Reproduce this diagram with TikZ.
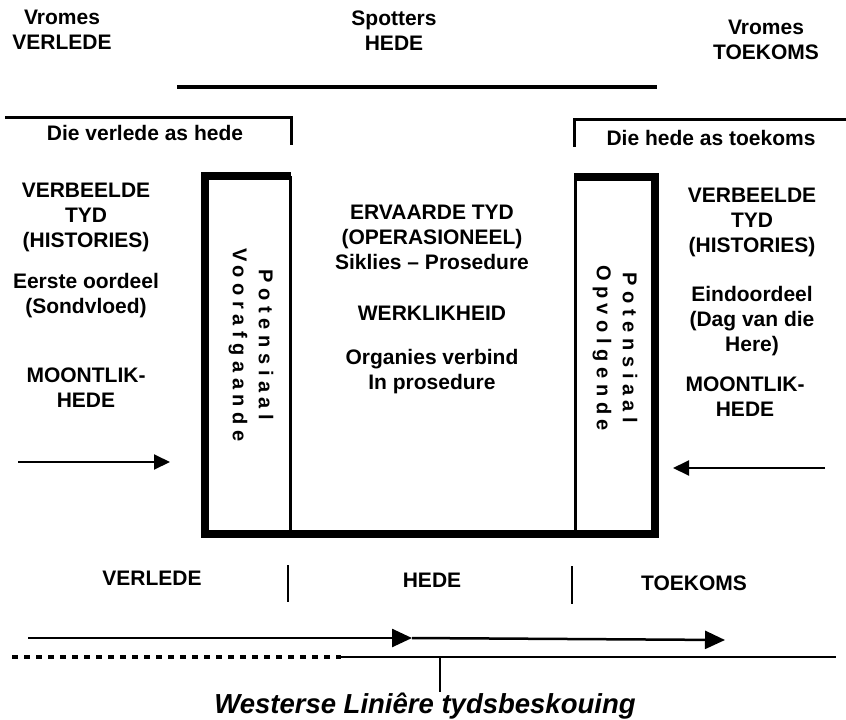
\documentclass[tikz,border=0pt]{standalone}
\usepackage{fontspec}
\setmainfont{Liberation Sans}
\newfontfamily\spacedfont[LetterSpace=28]{Liberation Sans}
\usetikzlibrary{arrows.meta}

\begin{document}
\begin{tikzpicture}[x=1pt,y=-1pt,
    txt/.style={align=center,inner sep=0pt,font=\bfseries\fontsize{21}{25}\selectfont},
    vtxt/.style={align=center,inner sep=0pt,rotate=-90,font=\spacedfont\bfseries\fontsize{20}{26}\selectfont},
    thinline/.style={line width=3pt},
    boxline/.style={line width=7.5pt,line join=miter},
    timearrow/.style={line width=2.5pt,-{Triangle[length=20pt,width=18pt]}}]
  \useasboundingbox (0,0) rectangle (846,720);
  % koppe
  \node[txt] (vromesv) at (62,30) {Vromes\\VERLEDE};
  \node[txt] (spotters) at (394,31) {Spotters\\HEDE};
  \node[txt] (vromest) at (766,40) {Vromes\\TOEKOMS};
  \draw[line width=4pt] (177,87) -- (657,87);
  % hakies
  \draw[thinline] (5,117) -- (291,117) -- (291,145);
  \draw[thinline] (846,119) -- (574,119) -- (574,147);
  \node[txt] (vashede) at (145,133) {Die verlede as hede};
  \node[txt] (hastoek) at (711,138) {Die hede as toekoms};
  % die U
  \draw[boxline] (291,176) -- (205,176) -- (205,534) -- (655,534) -- (655,177) -- (574,177);
  \draw[thinline] (290,176) -- (290,534);
  \draw[thinline] (575,177) -- (575,534);
  \node[vtxt] (voor) at (251,345) {Potensiaal\\Voorafgaande};
  \node[vtxt] (opvolg) at (615,348) {Potensiaal\\Opvolgende};
  % links
  \node[txt] (lhist) at (86,217) {VERBEELDE\\TYD\\(HISTORIES)};
  \node[txt] (loordeel) at (86,296) {Eerste oordeel\\(Sondvloed)};
  \node[txt] (lmoont) at (86,388) {MOONTLIK-\\HEDE};
  % middel
  \node[txt] (ervaar) at (432,237) {ERVAARDE TYD\\(OPERASIONEEL)\\Siklies -- Prosedure};
  \node[txt] (werk) at (432,313) {WERKLIKHEID};
  \node[txt] (organies) at (432,372) {Organies verbind\\In prosedure};
  % regs
  \node[txt] (rhist) at (752,222) {VERBEELDE\\TYD\\(HISTORIES)};
  \node[txt] (roordeel) at (752,321) {Eindoordeel\\(Dag van die\\Here)};
  \node[txt] (rmoont) at (745,397) {MOONTLIK-\\HEDE};
  \coordinate (la) at (18,462);
  \coordinate (lb) at (170,462);
  \coordinate (ra) at (825,468);
  \coordinate (rb) at (673,468);
  \draw[timearrow,line width=2pt,-{Triangle[length=16pt,width=15pt]}] (la) -- (lb);
  \draw[timearrow,line width=2pt,-{Triangle[length=16pt,width=15pt]}] (ra) -- (rb);
  % onder
  \node[txt] (verlede) at (152,578) {VERLEDE};
  \node[txt] (hede) at (432,580) {HEDE};
  \node[txt] (toekoms) at (694,583) {TOEKOMS};
  \draw[line width=2pt] (288,565) -- (288,602);
  \draw[line width=2pt] (572,566) -- (572,604);
  \coordinate (t0) at (28,638);
  \coordinate (t1) at (412,638);
  \coordinate (t2) at (725,640);
  \draw[timearrow] (t0) -- (t1);
  \draw[timearrow] (t1) -- (t2);
  \coordinate (d0) at (12,657);
  \coordinate (d1) at (341,657);
  \coordinate (d2) at (836,657);
  \draw[line width=3.5pt,dash pattern=on 6pt off 6pt] (d0) -- (d1);
  \draw[line width=2.5pt] (d1) -- (d2);
  \coordinate (tick) at (440,692);
  \draw[line width=2pt] (440,657) -- (tick);
  \node[txt,font=\bfseries\itshape\fontsize{27.5}{30}\selectfont] (wes) at (425,706) {Westerse Liniêre tydsbeskouing};
\end{tikzpicture}
\end{document}
